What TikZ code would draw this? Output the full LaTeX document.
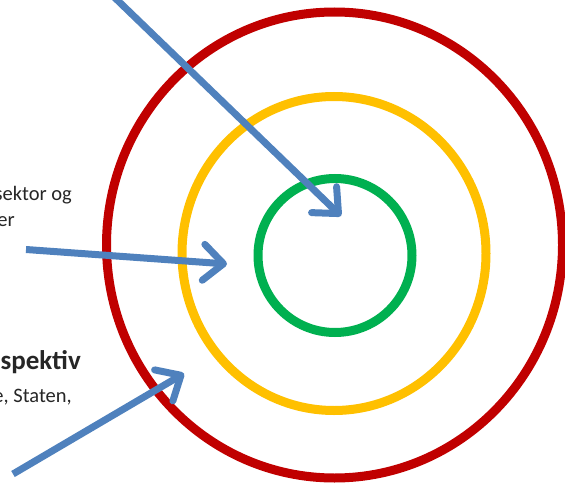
\documentclass[tikz,border=0pt]{standalone}
\usepackage{fontspec}
\setmainfont{Carlito}
\usetikzlibrary{arrows.meta,shapes.geometric}
\definecolor{ringred}{HTML}{C00000}
\definecolor{ringyellow}{HTML}{FFC000}
\definecolor{ringgreen}{HTML}{00B050}
\definecolor{arrowblue}{HTML}{4F81BD}
\definecolor{txt}{HTML}{262626}
\tikzset{
  ring/.style={draw=#1, line width=9pt, ellipse, inner sep=0pt, outer sep=0pt},
  pointer/.style={draw=arrowblue, line width=7pt,
    -{Straight Barb[length=20pt, width=36pt, line cap=round, line join=round]}},
  lbl/.style={anchor=base east, inner sep=0pt, text=txt, font=\fontsize{20.5pt}{24pt}\selectfont},
  lblbold/.style={lbl, font=\fontsize{27pt}{31pt}\selectfont\bfseries}
}
\begin{document}
\begin{tikzpicture}[x=1pt,y=-1pt]
\useasboundingbox (0,0) rectangle (565,487);
\clip (0,0) rectangle (565,487);
% rings
\node[ring=ringred, minimum width=456pt, minimum height=466pt] (outer) at (334.5,245) {};
\node[ring=ringyellow, minimum width=304pt, minimum height=314pt] (middle) at (334,253.5) {};
\node[ring=ringgreen, minimum width=154pt, minimum height=154pt] (inner) at (335,255.5) {};
% texts
\node[lbl] (t0) at (74,-2) {,};
\node[lbl] (t1) at (72,200.7) {sektor og};
\node[lbl] (t2) at (15,226) {er};
\node[lblbold] (t3) at (81,369) {spektiv};
\node[lbl] (t4) at (72,402) {e, Staten,};
% arrow endpoints
\coordinate (a1s) at (112,-5);
\coordinate (a1e) at (341,216);
\coordinate (a2s) at (26,249.5);
\coordinate (a2e) at (227,264);
\coordinate (a3s) at (13,474);
\coordinate (a3e) at (184,373.5);
\draw[pointer] (a1s) -- (a1e);
\draw[pointer] (a2s) -- (a2e);
\draw[pointer] (a3s) -- (a3e);
\end{tikzpicture}
\end{document}
